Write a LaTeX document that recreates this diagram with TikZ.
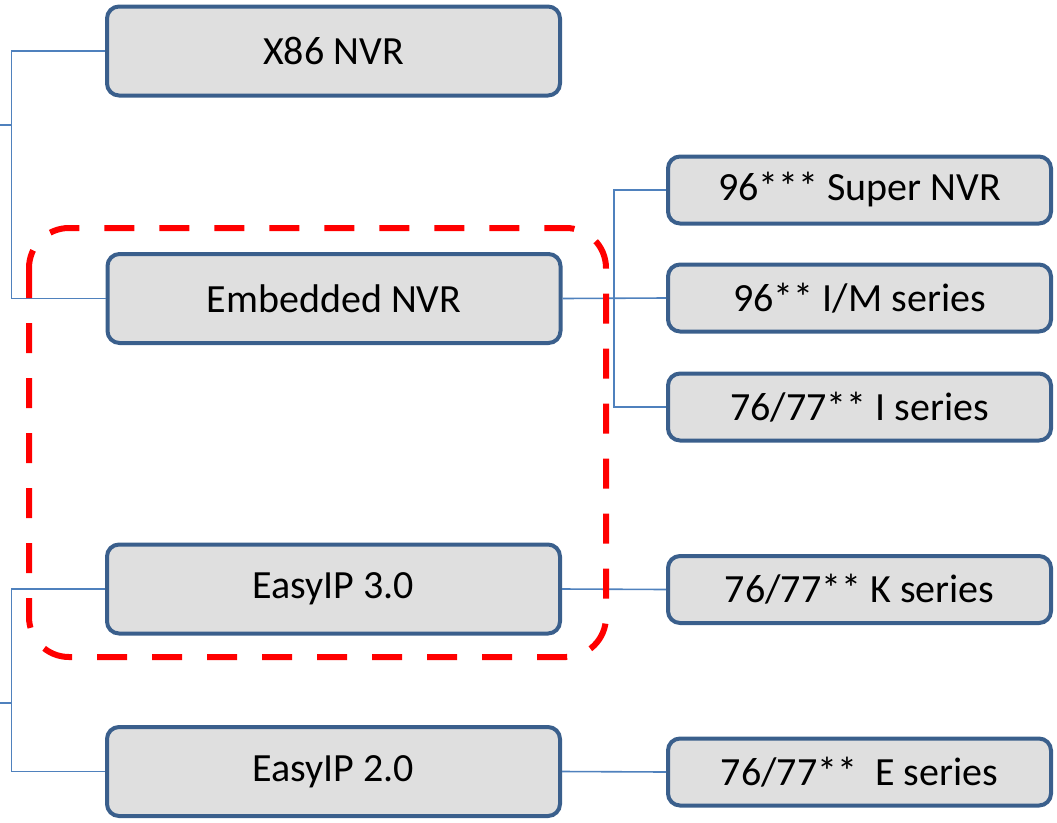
\documentclass[tikz,border=0pt]{standalone}
\usepackage{fontspec}
\setmainfont{Carlito}
\definecolor{boxblue}{RGB}{58,95,140}
\definecolor{boxgray}{RGB}{223,223,223}
\definecolor{connblue}{RGB}{79,129,189}
\tikzset{
  box/.style={draw=boxblue, line width=4pt, fill=boxgray, rounded corners=12pt,
    font=\fontsize{40}{48}\selectfont, inner sep=0pt, text=black, anchor=center},
  lbox/.style={box, minimum width=453pt, minimum height=89pt},
  rbox/.style={box, minimum width=383pt, minimum height=67pt},
  conn/.style={draw=connblue, line width=1.6pt},
  focus/.style={draw=red, line width=6pt, dash pattern=on 30pt off 25pt, rounded corners=40pt}
}
\begin{document}
\begin{tikzpicture}[x=1pt,y=-1pt]
\useasboundingbox (0,0) rectangle (1057,822);
% left column
\node[lbox] (x86) at (333.5,51) {X86 NVR};
\node[lbox] (emb) at (334,298.5) {Embedded NVR};
\node[lbox] (e3) at (333.5,589) {EasyIP 3.0};
\node[lbox] (e2) at (333.5,771.5) {EasyIP 2.0};
% right column
\node[rbox] (sup) at (859.5,190) {96*** Super NVR};
\node[rbox] (im) at (859.5,298) {96** I/M series};
\node[rbox] (iser) at (859.5,407) {76/77** I series};
\node[rbox] (kser) at (859.5,589.5) {76/77** K series};
\node[rbox] (eser) at (859.5,772) {76/77**\ \ E series};
% junction coordinates
\coordinate (ja) at (11.5,125);
\coordinate (sa) at (0,125);
\coordinate (jb) at (11.5,703);
\coordinate (sb) at (0,703);
\coordinate (jr) at (614,298);
% connectors
\draw[conn] (x86.west) -| (ja) |- (emb.west);
\draw[conn] (sa) -- (ja);
\draw[conn] (e3.west) -| (jb) |- (e2.west);
\draw[conn] (sb) -- (jb);
\draw[conn] (emb.east) -- (im.west);
\draw[conn] (sup.west) -| (jr) |- (iser.west);
\draw[conn] (e3.east) -- (kser.west);
\draw[conn] (e2.east) -- (eser.west);
% highlight
\draw[focus] (29,228) rectangle (606,657);
\end{tikzpicture}
\end{document}
